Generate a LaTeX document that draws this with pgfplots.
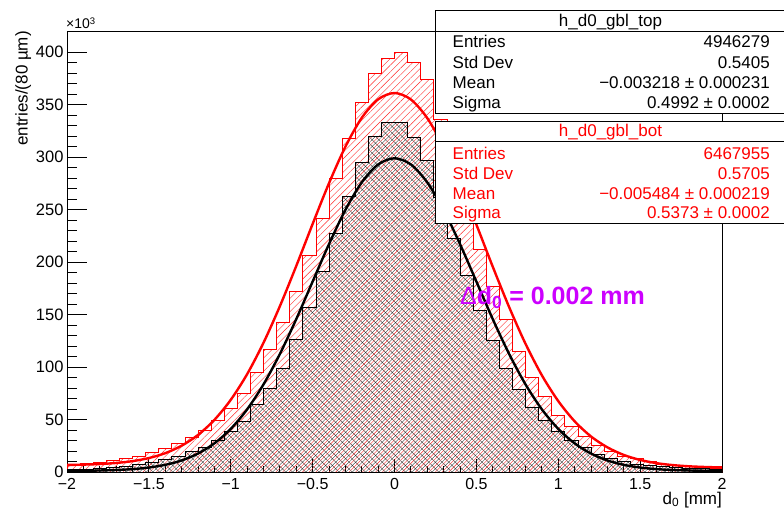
\documentclass[border=0pt]{standalone}
\usepackage{fontspec}
\setmainfont{Liberation Sans}
\usepackage{pgfplots}
\pgfplotsset{compat=1.18}
\usetikzlibrary{patterns.meta}
\definecolor{deltacol}{RGB}{204,0,255}
\newcommand{\fs}[1]{\fontsize{#1}{#1}\selectfont}

\begin{document}
\begin{tikzpicture}[x=1bp,y=1bp]
\path[use as bounding box] (0,0) rectangle (784,-512);

% axis carrying the y ticks
\begin{axis}[
  at={(67bp,-472bp)}, anchor=south west, scale only axis,
  width=655bp, height=440.7bp,
  xmin=-2, xmax=2, ymin=0, ymax=420,
  xtick=\empty,
  ytick={0,50,100,150,200,250,300,350,400},
  yticklabels={0,50,100,150,200,250,300,350,400},
  minor y tick num=4,
  ytick pos=left, tick align=inside,
  major tick length=20bp, minor tick length=10bp,
  tick style={black, line width=0.8bp},
  axis line style={line width=0.8bp},
  yticklabel style={font=\fs{16.5bp}, inner ysep=0pt},
]
\end{axis}

% axis carrying the data and the x ticks
\begin{axis}[
  at={(67bp,-472bp)}, anchor=south west, scale only axis,
  width=655bp, height=440.7bp,
  xmin=-2, xmax=2, ymin=0, ymax=420,
  ytick=\empty,
  xtick={-2,-1.5,-1,-0.5,0,0.5,1,1.5,2},
  xticklabels={−2,−1.5,−1,−0.5,0,0.5,1,1.5,2},
  minor x tick num=4,
  xtick pos=left, tick align=inside,
  major tick length=13bp, minor tick length=6.5bp,
  tick style={black, line width=0.8bp},
  axis line style={line width=0.8bp},
  xticklabel style={font=\fs{16bp}, yshift=-4bp, inner ysep=2pt},
]
% h_d0_gbl_bot (red)
\addplot[const plot, draw=red, line width=0.8bp,
  pattern={Lines[angle=45,distance=4.7bp,line width=0.4bp,xshift=3.3bp]}, pattern color=red!85]
  coordinates {(-2.00,7.3) (-1.92,8.3) (-1.84,9.2) (-1.76,11) (-1.68,12.5) (-1.60,15) (-1.52,18.5) (-1.44,22.5) (-1.36,27) (-1.28,33) (-1.20,40) (-1.12,49) (-1.04,61) (-0.96,75) (-0.88,94.5) (-0.80,117) (-0.72,143) (-0.64,172) (-0.56,206) (-0.48,242) (-0.40,280) (-0.32,318) (-0.24,352) (-0.16,380) (-0.08,394) (0.00,400) (0.08,390) (0.16,374) (0.24,336) (0.32,285) (0.40,245) (0.48,212) (0.56,177) (0.64,145) (0.72,115) (0.80,90) (0.88,72) (0.96,54) (1.04,43) (1.12,34) (1.20,25) (1.28,20) (1.36,15) (1.44,12.7) (1.52,10) (1.60,7.6) (1.68,6) (1.76,5) (1.84,4) (1.92,3.5) (2.00,3.5)} \closedcycle;
% fit of h_d0_gbl_bot
\addplot[red, line width=2.4bp, smooth] coordinates {(-2.0,6.75) (-1.9,7.04) (-1.8,7.58) (-1.7,8.62) (-1.6,10.36) (-1.5,13.3) (-1.4,17.94) (-1.3,25.08) (-1.2,35.32) (-1.1,49.66) (-1.0,68.8) (-0.9,93.24) (-0.8,123.18) (-0.7,158.02) (-0.6,196.36) (-0.5,236.4) (-0.4,275.24) (-0.3,309.98) (-0.2,337.52) (-0.1,355.16) (0.0,361.2) (0.1,355.04) (0.2,337.28) (0.3,309.62) (0.4,274.76) (0.5,235.8) (0.6,195.64) (0.7,157.18) (0.8,122.22) (0.9,92.16) (1.0,67.6) (1.1,48.34) (1.2,33.88) (1.3,23.52) (1.4,16.26) (1.5,11.5) (1.6,8.44) (1.7,6.58) (1.8,5.42) (1.9,4.76) (2.0,4.35)};
% h_d0_gbl_top (black)
\addplot[const plot, draw=black, line width=0.8bp,
  pattern={Hatch[angle=45,distance=4.7bp,line width=0.35bp]}, pattern color=black!80]
  coordinates {(-2.00,2.5) (-1.92,2.9) (-1.84,3.5) (-1.76,4.5) (-1.68,5.7) (-1.60,7.3) (-1.52,9.2) (-1.44,12) (-1.36,15) (-1.28,19.3) (-1.20,23.5) (-1.12,29.8) (-1.04,38.4) (-0.96,48.5) (-0.88,64) (-0.80,79.6) (-0.72,99) (-0.64,126) (-0.56,157) (-0.48,191) (-0.40,227) (-0.32,263) (-0.24,295) (-0.16,320) (-0.08,333) (0.00,333) (0.08,319) (0.16,297) (0.24,262) (0.32,223) (0.40,187.5) (0.48,154) (0.56,125) (0.64,99) (0.72,79) (0.80,62) (0.88,49.5) (0.96,39) (1.04,30.5) (1.12,23.5) (1.20,17) (1.28,13) (1.36,10) (1.44,7.5) (1.52,6) (1.60,5) (1.68,4) (1.76,3.5) (1.84,3) (1.92,2.5) (2.00,2.5)} \closedcycle;
% fit of h_d0_gbl_top
\addplot[black, line width=2.4bp, smooth] coordinates {(-2.0,1.1) (-1.9,1.21) (-1.8,1.45) (-1.7,1.9) (-1.6,2.75) (-1.5,4.26) (-1.4,6.84) (-1.3,11.0) (-1.2,17.6) (-1.1,27.3) (-1.0,41.1) (-0.9,59.7) (-0.8,83.5) (-0.7,112.5) (-0.6,145.7) (-0.5,181.5) (-0.4,217.2) (-0.3,249.8) (-0.2,276.0) (-0.1,293.1) (0.0,299) (0.1,293.1) (0.2,276.0) (0.3,249.8) (0.4,217.2) (0.5,181.5) (0.6,145.7) (0.7,112.5) (0.8,83.5) (0.9,59.7) (1.0,41.1) (1.1,27.3) (1.2,17.6) (1.3,11.0) (1.4,6.84) (1.5,4.26) (1.6,2.75) (1.7,1.9) (1.8,1.45) (1.9,1.21) (2.0,1.1)};
\end{axis}

% axis titles and multiplier
\node[anchor=base west, inner sep=0] at (66,-28.3) {\fs{14bp}×10\raisebox{0.55ex}{\fs{9.5bp}3}};
\node[rotate=90, anchor=base east, inner sep=0] at (27.5,-31) {\fs{17bp}entries/(80 µm)};
\node[anchor=base east, inner sep=0] at (722,-504) {\fs{17bp}d\textsubscript{0} [mm]};

% stat box of h_d0_gbl_top
\draw[fill=white, line width=0.8bp] (435,-10.7) rectangle (790,-113.3);
\draw[line width=0.8bp] (435,-31.7) -- (790,-31.7);
\node[anchor=base, inner sep=0] at (610.5,-26.5) {\fs{17bp}h\_d0\_gbl\_top};
\node[anchor=base west, inner sep=0] at (452.5,-48) {\fs{17bp}Entries};
\node[anchor=base east, inner sep=0] at (770,-48) {\fs{17bp}4946279};
\node[anchor=base west, inner sep=0] at (452.5,-68.3) {\fs{17bp}Std Dev};
\node[anchor=base east, inner sep=0] at (770,-68.3) {\fs{17bp}0.5405};
\node[anchor=base west, inner sep=0] at (452.5,-88.3) {\fs{17bp}Mean};
\node[anchor=base east, inner sep=0] at (770,-88.3) {\fs{17bp}−0.003218 ± 0.000231};
\node[anchor=base west, inner sep=0] at (452.5,-108.3) {\fs{17bp}Sigma};
\node[anchor=base east, inner sep=0] at (770,-108.3) {\fs{17bp}0.4992 ± 0.0002};

% stat box of h_d0_gbl_bot
\draw[fill=white, line width=0.8bp] (435,-121.7) rectangle (790,-223.5);
\draw[line width=0.8bp] (435,-141.7) -- (790,-141.7);
\begin{scope}[red]
\node[anchor=base, inner sep=0] at (610.5,-136.7) {\fs{17bp}h\_d0\_gbl\_bot};
\node[anchor=base west, inner sep=0] at (452.5,-159.3) {\fs{17bp}Entries};
\node[anchor=base east, inner sep=0] at (770,-159.3) {\fs{17bp}6467955};
\node[anchor=base west, inner sep=0] at (452.5,-179.5) {\fs{17bp}Std Dev};
\node[anchor=base east, inner sep=0] at (770,-179.5) {\fs{17bp}0.5705};
\node[anchor=base west, inner sep=0] at (452.5,-199.7) {\fs{17bp}Mean};
\node[anchor=base east, inner sep=0] at (770,-199.7) {\fs{17bp}−0.005484 ± 0.000219};
\node[anchor=base west, inner sep=0] at (452.5,-219) {\fs{17bp}Sigma};
\node[anchor=base east, inner sep=0] at (770,-219) {\fs{17bp}0.5373 ± 0.0002};
\end{scope}

% annotation
\node[anchor=base west, inner sep=0, text=deltacol] at (460,-305) {\fs{25bp}Δ\textbf{d\textsubscript{0} = 0.002 mm}};
\end{tikzpicture}
\end{document}
